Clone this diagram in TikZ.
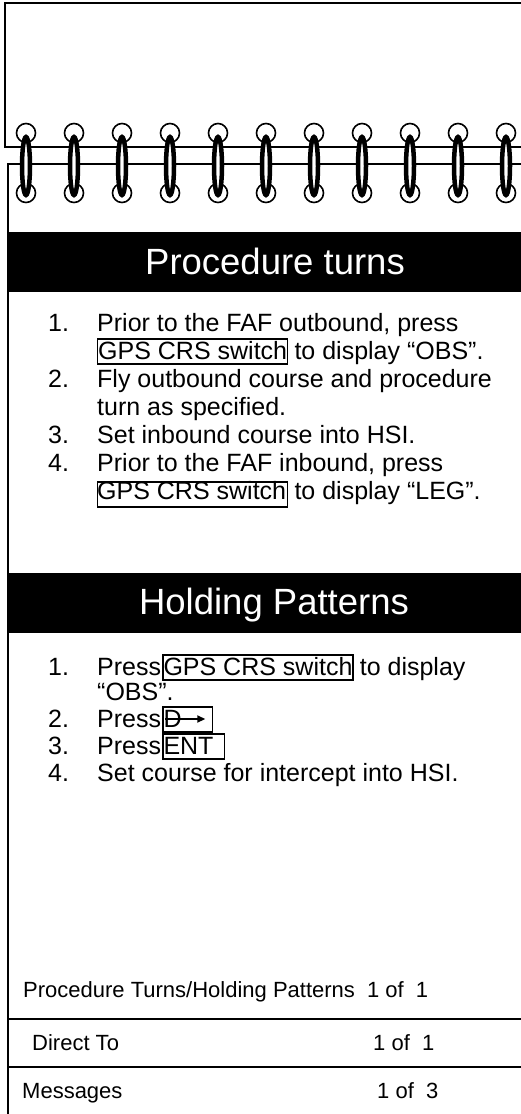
\documentclass[tikz,border=0pt]{standalone}
\usepackage{fontspec}
\setmainfont{Liberation Sans}
\usetikzlibrary{arrows.meta}
\begin{document}
\begin{tikzpicture}[x=1pt,y=-1pt,
  edge/.style={line width=2pt},
  ringc/.style={line width=1.6pt, fill=white},
  ringo/.style={line width=4.5pt, fill=white},
  bar/.style={fill=black},
  head/.style={text=white, font=\fontsize{36.5}{40}\selectfont, anchor=base, inner sep=0pt},
  txt/.style={font=\fontsize{25}{28}\selectfont, anchor=base west, inner sep=0pt},
  key/.style={draw, line width=1.2pt, font=\fontsize{25}{28}\selectfont, inner xsep=0.6pt, inner ysep=0pt, text height=20pt, text depth=5pt, anchor=base west},
  foot/.style={font=\fontsize{22}{26}\selectfont, anchor=base west, inner sep=0pt},
  dto/.style={line width=1.8pt, -{Triangle[length=8pt,width=7pt]}}
]
\useasboundingbox (0,0) rectangle (521,1114);
\clip (0,0) rectangle (521,1114);
% back page
\draw[edge] (530,3) -- (5,3) -- (5,147) -- (530,147);
% front page
\draw[edge] (8,1120) -- (8,164) -- (530,164);
% rings
\foreach \i in {0,...,10} {
  \pgfmathsetmacro\xx{26+48*\i}
  \draw[ringc] (\xx,133) circle (9.5pt);
  \draw[ringc] (\xx,193) circle (9.5pt);
  \draw[ringo] (\xx,166) ellipse (4pt and 29pt);
}
% header bars
\fill[bar] (8,232) rectangle (530,292);
\node[head] (h1) at (275,274) {Procedure turns};
\fill[bar] (8,573) rectangle (530,633);
\node[head] (h2) at (274,614) {Holding Patterns};
% procedure turns list
\node[txt] (n1) at (48,331) {1.};
\node[txt] (a1) at (97,331) {Prior to the FAF outbound, press};
\node[key] (k1) at (97,359) {GPS CRS switch};
\node[txt] (a1b) at ([xshift=6pt]k1.base east) {to display “OBS”.};
\node[txt] (n2) at (48,387) {2.};
\node[txt] (a2) at (97,387) {Fly outbound course and procedure};
\node[txt] (a2b) at (97,415) {turn as specified.};
\node[txt] (n3) at (48,443) {3.};
\node[txt] (a3) at (97,443) {Set inbound course into HSI.};
\node[txt] (n4) at (48,471) {4.};
\node[txt] (a4) at (97,471) {Prior to the FAF inbound, press};
\node[txt] (a4t) at (97,499) {GPS CRS switch};
\node[key, text height=17pt, text depth=8pt] (k2) at (97,499) {\phantom{GPS CRS switch}};
\node[txt] (a4b) at ([xshift=6pt]k2.base east) {to display “LEG”.};
% holding patterns list
\node[txt] (m1) at (48,675) {1.};
\node[txt] (b1) at (97,675) {Press};
\node[key] (k3) at ([xshift=1pt]b1.base east) {GPS CRS switch};
\node[txt] (b1b) at ([xshift=6pt]k3.base east) {to display};
\node[txt] (b1c) at (97,700) {“OBS”.};
\node[txt] (m2) at (48,727) {2.};
\node[txt] (b2) at (97,727) {Press};
\node[key, text width=48pt, align=left] (k4) at ([xshift=1pt]b2.base east) {D};
\coordinate (d1) at ([shift={(3,-8)}]k4.base west);
\coordinate (d2) at ([shift={(43,-8)}]k4.base west);
\draw[dto] (d1) -- (d2);
\node[txt] (m3) at (48,754) {3.};
\node[txt] (b3) at (97,754) {Press};
\node[key, text width=60pt, align=left] (k5) at ([xshift=1pt]b3.base east) {ENT};
\node[txt] (m4) at (48,781) {4.};
\node[txt] (b4) at (97,781) {Set course for intercept into HSI.};
% footer
\node[foot] (f1) at (23,997) {Procedure Turns/Holding Patterns\hspace{6pt} 1 of\hspace{6pt} 1};
\draw[edge] (8,1019) -- (530,1019);
\node[foot] (f2) at (32,1050) {Direct To};
\node[foot] (f2b) at (373,1050) {1 of\hspace{6pt} 1};
\draw[edge] (8,1067) -- (530,1067);
\node[foot] (f3) at (22,1098) {Messages};
\node[foot] (f3b) at (377,1098) {1 of\hspace{6pt} 3};
\end{tikzpicture}
\end{document}
